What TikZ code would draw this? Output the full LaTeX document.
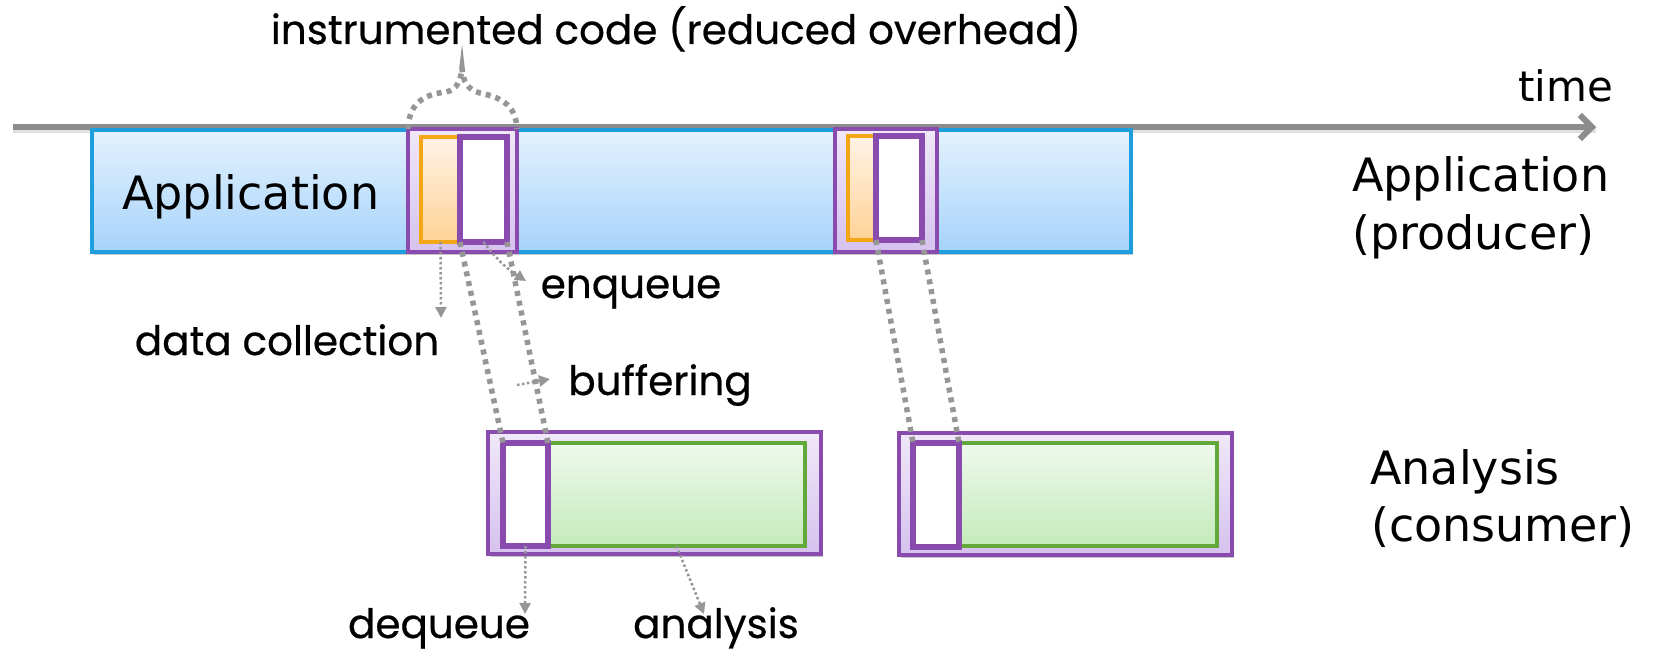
\documentclass[tikz,border=0pt]{standalone}
\usepackage{fontspec}
\setmainfont{DejaVu Sans}
\newfontfamily\handfont{Poppins}[FakeBold=0.5]
\usetikzlibrary{arrows.meta,fit,shadows}

\definecolor{appborder}{RGB}{30,158,220}
\definecolor{apptop}{RGB}{228,242,254}
\definecolor{appbot}{RGB}{166,211,250}
\definecolor{instborder}{RGB}{137,76,174}
\definecolor{insttop}{RGB}{240,232,249}
\definecolor{instbot}{RGB}{214,194,238}
\definecolor{orborder}{RGB}{243,166,22}
\definecolor{ortop}{RGB}{255,243,230}
\definecolor{orbot}{RGB}{255,210,150}
\definecolor{grborder}{RGB}{98,168,58}
\definecolor{grtop}{RGB}{238,249,236}
\definecolor{grbot}{RGB}{196,235,186}
\definecolor{linkgray}{RGB}{150,150,150}
\definecolor{axisgray}{RGB}{140,140,140}

\begin{document}
\begin{tikzpicture}[x=1pt,y=-1pt,
  box/.style={draw, inner sep=0pt, outer sep=0pt, line width=3.5pt},
  shade/.style={drop shadow={shadow xshift=2pt, shadow yshift=-3pt, opacity=0.22, fill=black}},
  appbox/.style={box, shade, draw=appborder, top color=apptop, bottom color=appbot},
  instbox/.style={box, shade, draw=instborder, top color=insttop, bottom color=instbot},
  orangebox/.style={box, draw=orborder, top color=ortop, bottom color=orbot},
  slotbox/.style={box, draw=instborder, fill=white, line width=6pt},
  greenbox/.style={box, draw=grborder, top color=grtop, bottom color=grbot},
  link/.style={draw=linkgray, line width=5.5pt, dash pattern=on 5pt off 5pt},
  pointer/.style={draw=linkgray, line width=2.5pt, dash pattern=on 2.5pt off 2.5pt,
    -{Triangle[length=11pt,width=11pt]}},
  axis/.style={draw=axisgray, line width=6pt,
    -{Straight Barb[length=12pt,width=24pt]}},
  handlabel/.style={font=\handfont\fontsize{40.5}{46}\selectfont, inner sep=0pt, anchor=base},
  sanslabel/.style={font=\fontsize{46}{54}\selectfont, inner sep=0pt, anchor=base west}
]
\useasboundingbox (0,0) rectangle (1657,652);

% time axis
\coordinate (tStart) at (13,127);
\coordinate (tEnd) at (1596,127);
\draw[axis, preaction={draw=black, opacity=0.12, line width=6pt, transform canvas={yshift=-3pt}, arrows=-}] (tStart) -- (tEnd);
\node[sanslabel, font=\fontsize{42}{48}\selectfont] (timeLbl) at (1518,102) {time};

% producer row
\node[appbox, fit={(92,130) (408,252)}] (app1) {};
\node[appbox, fit={(517,130) (835,252)}] (app2) {};
\node[appbox, fit={(937,130) (1131,252)}] (app3) {};
\node[sanslabel] (appLbl) at (122,210) {Application};

\node[instbox, fit={(408,129) (517,252)}] (inst1) {};
\node[orangebox, fit={(421,137) (460,242)}] (orange1) {};
\node[slotbox, fit={(460,137) (507,242)}] (slot1) {};

\node[instbox, fit={(835,129) (937,252)}] (inst2) {};
\node[orangebox, fit={(848,136) (876,240)}] (orange2) {};
\node[slotbox, fit={(876,136) (922,240)}] (slot2) {};

\node[sanslabel] (prodLbl1) at (1352,192) {Application};
\node[sanslabel] (prodLbl2) at (1352,250) {(producer)};

% consumer row
\node[instbox, fit={(488,432) (821,554)}] (cons1) {};
\node[greenbox, fit={(548,443) (805,546)}] (green1) {};
\node[slotbox, fit={(503,443) (548,546)}] (cslot1) {};

\node[instbox, fit={(899,433) (1232,555)}] (cons2) {};
\node[greenbox, fit={(959,443) (1217,546)}] (green2) {};
\node[slotbox, fit={(913,443) (959,547)}] (cslot2) {};

\node[sanslabel] (consLbl1) at (1370,484) {Analysis};
\node[sanslabel] (consLbl2) at (1371,541) {(consumer)};

% brace over the instrumented code
\coordinate (braceTip) at (462,68);
\draw[link] (inst1.north west) .. controls (409,100) and (428,94) .. (446,92)
  .. controls (457,90) and (461,80) .. (braceTip)
  .. controls (463,82) and (468,90) .. (480,93)
  .. controls (505,98) and (516,108) .. (inst1.north east);
\node[handlabel] (titleLbl) at (676,44) {instrumented code (reduced overhead)};

% queue links between producer and consumer
\draw[link] (slot1.south west) -- (cslot1.north west);
\draw[link] (slot1.south east) -- (cslot1.north east);
\draw[link] (slot2.south west) -- (cslot2.north west);
\draw[link] (slot2.south east) -- (cslot2.north east);

% annotation pointers
\coordinate (dcEnd) at (441,318);
\coordinate (enqEnd) at (526,281);
\coordinate (bufStart) at (517,385);
\coordinate (bufEnd) at (550,379);
\coordinate (deqEnd) at (525,614);
\coordinate (anaEnd) at (704,614);
\draw[pointer] (orange1.south) -- (dcEnd);
\draw[pointer] (slot1.south) to[bend right=10] (enqEnd);
\draw[pointer] (bufStart) -- (bufEnd);
\draw[pointer] (cslot1.south) -- (deqEnd);
\draw[pointer] (green1.south) -- (anaEnd);

\node[handlabel] (dcLbl) at (287,355) {data collection};
\node[handlabel] (enqLbl) at (631,298) {enqueue};
\node[handlabel] (bufLbl) at (660,395) {buffering};
\node[handlabel] (deqLbl) at (439,638) {dequeue};
\node[handlabel] (anaLbl) at (716,638) {analysis};
\end{tikzpicture}
\end{document}
